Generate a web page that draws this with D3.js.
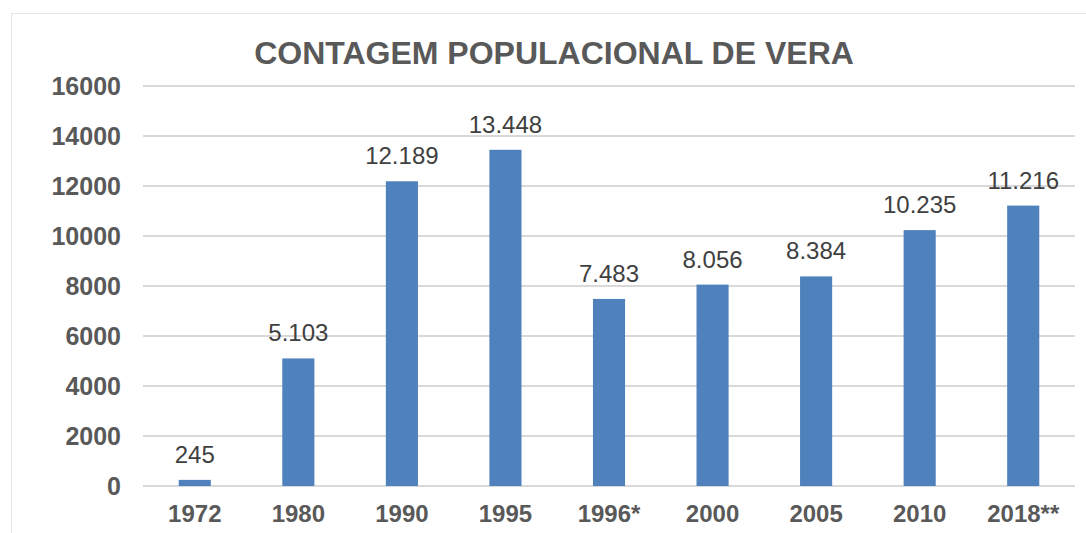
<!DOCTYPE html>
<html>
<head>
<meta charset="utf-8">
<script src="https://cdn.jsdelivr.net/npm/d3@7"></script>
<style>
  body { margin: 0; background: #fff; }
  svg { display: block; font-family: "Liberation Sans", Arial, sans-serif; }
</style>
</head>
<body>
<svg width="1086" height="533"></svg>
<script>
const years = ["1972", "1980", "1990", "1995", "1996*", "2000", "2005", "2010", "2018**"];
const population = [245, 5103, 12189, 13448, 7483, 8056, 8384, 10235, 11216];
const yTicks = [0, 2000, 4000, 6000, 8000, 10000, 12000, 14000, 16000];

const svg = d3.select("svg");

// chart frame
svg.append("rect")
    .attr("x", 11.5).attr("y", 13.5)
    .attr("width", 1090).attr("height", 540)
    .attr("fill", "none")
    .attr("stroke", "#e6e6e6");

const x = d3.scaleBand()
    .domain(years)
    .range([143, 1075])
    .paddingInner(0.69)
    .paddingOuter(0.345);

const y = d3.scaleLinear()
    .domain([0, 16000])
    .range([486, 86]);

// gridlines
svg.append("g")
    .selectAll("line")
    .data(yTicks)
    .enter()
    .append("line")
    .attr("x1", 143).attr("x2", 1075)
    .attr("y1", d => y(d)).attr("y2", d => y(d))
    .attr("stroke", "#d9d9d9")
    .attr("stroke-width", 2);

// y axis labels
const yAxis = d3.axisLeft(y).tickValues(yTicks).tickSize(0).tickPadding(22).tickFormat(d3.format("d"));
svg.append("g")
    .attr("transform", "translate(143,0)")
    .call(yAxis)
    .call(g => g.select(".domain").remove())
    .selectAll("text")
    .attr("font-family", "Liberation Sans, Arial, sans-serif")
    .attr("font-size", 25)
    .attr("font-weight", "bold")
    .attr("fill", "#595959");

// x axis labels
const xAxis = d3.axisBottom(x).tickSize(0).tickPadding(19);
svg.append("g")
    .attr("transform", "translate(0,486)")
    .call(xAxis)
    .call(g => g.select(".domain").remove())
    .selectAll("text")
    .attr("font-family", "Liberation Sans, Arial, sans-serif")
    .attr("font-size", 24)
    .attr("font-weight", "bold")
    .attr("fill", "#595959");

// bars
svg.append("g")
    .selectAll("rect")
    .data(population)
    .enter()
    .append("rect")
    .attr("x", (d, i) => x(years[i]))
    .attr("width", x.bandwidth())
    .attr("y", d => y(d))
    .attr("height", d => y(0) - y(d))
    .attr("fill", "#4f81bd");

// value labels
const ptBR = d3.formatLocale({decimal: ",", thousands: ".", grouping: [3], currency: ["R$", ""]});
const fmt = ptBR.format(",d");
svg.append("g")
    .selectAll("text")
    .data(population)
    .enter()
    .append("text")
    .attr("x", (d, i) => x(years[i]) + x.bandwidth() / 2)
    .attr("y", d => y(d) - 17)
    .attr("text-anchor", "middle")
    .attr("font-size", 24)
    .attr("fill", "#404040")
    .text(d => fmt(d));

// title
svg.append("text")
    .attr("x", 554)
    .attr("y", 64)
    .attr("text-anchor", "middle")
    .attr("font-size", 32)
    .attr("font-weight", "bold")
    .attr("fill", "#595959")
    .text("CONTAGEM POPULACIONAL DE VERA");
</script>
</body>
</html>
